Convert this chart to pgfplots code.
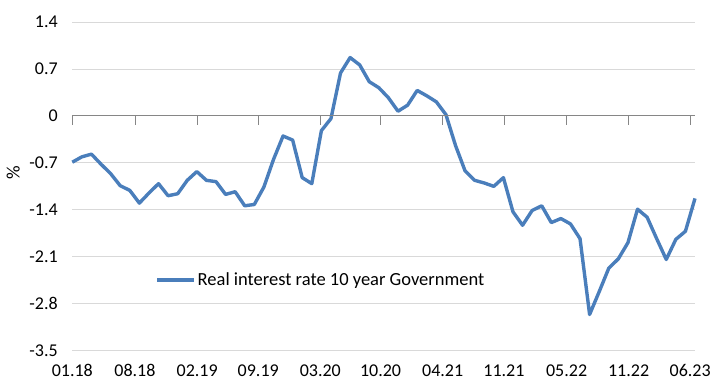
\documentclass[border=0pt]{standalone}
\usepackage{fontspec}
\setmainfont{Carlito}
\usepackage{pgfplots}
\pgfplotsset{compat=1.18}
\definecolor{serie}{HTML}{4A7EBB}
\definecolor{gridc}{HTML}{D9D9D9}
\definecolor{axc}{HTML}{868686}
\pgfplotstableread{
idx val
0 -0.69
1 -0.61
2 -0.57
3 -0.72
4 -0.86
5 -1.04
6 -1.11
7 -1.30
8 -1.15
9 -1.01
10 -1.19
11 -1.16
12 -0.96
13 -0.83
14 -0.96
15 -0.98
16 -1.17
17 -1.13
18 -1.34
19 -1.32
20 -1.06
21 -0.65
22 -0.30
23 -0.36
24 -0.92
25 -1.01
26 -0.22
27 -0.04
28 0.64
29 0.87
30 0.76
31 0.51
32 0.42
33 0.27
34 0.07
35 0.16
36 0.38
37 0.30
38 0.21
39 0.02
40 -0.44
41 -0.82
42 -0.96
43 -1.00
44 -1.05
45 -0.92
46 -1.43
47 -1.63
48 -1.41
49 -1.34
50 -1.59
51 -1.53
52 -1.61
53 -1.83
54 -2.96
55 -2.62
56 -2.27
57 -2.13
58 -1.89
59 -1.39
60 -1.51
61 -1.83
62 -2.14
63 -1.84
64 -1.72
65 -1.23
}\rates
\begin{document}
\begin{tikzpicture}
\path[use as bounding box] (-72.3bp,-30.3bp) rectangle (640.7bp,350.7bp);
\begin{axis}[
  at={(0,0)}, anchor=south west,
  scale only axis, width=622.7bp, height=328.7bp,
  xmin=0, xmax=65, ymin=-3.5, ymax=1.4,
  ytick={-3.5,-2.8,-2.1,-1.4,-0.7,0,0.7,1.4},
  yticklabels={-3.5,-2.8,-2.1,-1.4,-0.7,0,0.7,1.4},
  xtick={0,6.54,13.04,19.41,25.89,32.18,38.66,45.06,51.6,58.07,64.5},
  xticklabels={01.18,08.18,02.19,09.19,03.20,10.20,04.21,11.21,05.22,11.22,06.23},
  ymajorgrids, grid style={gridc, line width=0.9bp},
  axis line style={draw=none},
  major tick length=0pt,
  tick style={draw=none},
  font=\fontsize{18bp}{21bp}\selectfont,
  yticklabel style={anchor=east, xshift=-11bp},
  xticklabel style={anchor=base, yshift=-25.5bp},
  ylabel={\%},
  ylabel style={at={(axis description cs:-0.095,0.54)}, anchor=center, font=\fontsize{19bp}{21bp}\selectfont},
  legend style={at={(axis description cs:0.133,0.215)}, anchor=west, draw=none, fill=none,
    inner sep=0pt, font=\fontsize{18.5bp}{21bp}\selectfont},
  legend image code/.code={\draw[#1] (0bp,0bp) -- (37bp,0bp);},
  clip=false,
]
\addplot[serie, line width=3.4bp, line join=round, mark=none] table[x=idx, y=val] {\rates};
\addlegendentry{Real interest rate 10 year Government}
\end{axis}
\begin{axis}[
  at={(0,0)}, anchor=south west,
  scale only axis, width=622.7bp, height=328.7bp,
  xmin=0, xmax=65, ymin=-3.5, ymax=1.4,
  axis x line=middle, axis y line=none,
  axis line style={axc, line width=0.9bp, -},
  xtick={0,6.54,13.04,19.41,25.89,32.18,38.66,45.06,51.6,58.07,64.5},
  xticklabels={},
  xtick style={axc, line width=0.9bp},
  major tick length=8.6bp,
  tick align=outside,
]
\end{axis}
\end{tikzpicture}
\end{document}
